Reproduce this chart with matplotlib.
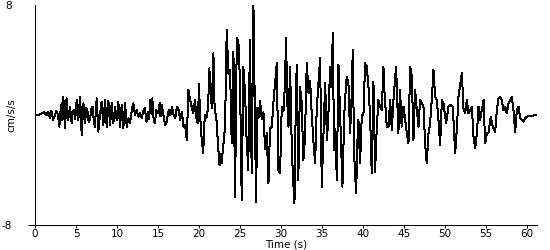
#plot.py

import matplotlib
matplotlib.use("Agg")
import matplotlib.pyplot as plt


# Data (time in s, acceleration in cm/s/s)

time_s = [
    0.0, 0.4, 0.8, 1.1, 1.4, 1.6, 1.8, 2.0, 2.2, 2.4,
    2.6, 2.8, 2.97, 3.1, 3.25, 3.35, 3.45, 3.65, 3.85, 4.05,
    4.27, 4.47, 4.6, 4.75, 4.9, 5.08, 5.28, 5.5, 5.69, 5.9,
    6.1, 6.25, 6.4, 6.55, 6.7, 6.85, 7.03, 7.15, 7.3, 7.52,
    7.72, 7.93, 8.13, 8.33, 8.54, 8.74, 8.95, 9.15, 9.35, 9.55,
    9.76, 9.96, 10.16, 10.37, 10.57, 10.77, 10.98, 11.18, 11.38, 11.58,
    11.8, 11.99, 12.2, 12.4, 12.6, 12.8, 13.0, 13.2, 13.4, 13.6,
    13.8, 13.9, 14.05, 14.2, 14.3, 14.45, 14.6, 14.8, 15.0, 15.2,
    15.3, 15.45, 15.65, 15.85, 16.05, 16.3, 16.5, 16.7, 16.9, 17.1,
    17.3, 17.5, 17.7, 17.9, 18.1, 18.3, 18.5, 18.7, 18.9, 19.1,
    19.3, 19.5, 19.7, 19.85, 20.0, 20.1, 20.3, 20.5, 20.7, 20.9,
    21.1, 21.25, 21.4, 21.55, 21.75, 21.9, 22.1, 22.3, 22.5, 22.6,
    22.75, 23.17, 23.37, 23.58, 23.78, 23.98, 24.19, 24.39, 24.6, 24.8,
    25.0, 25.2, 25.4, 25.61, 25.8, 26.0, 26.2, 26.42, 26.63, 26.95,
    27.1, 27.24, 27.45, 27.64, 27.85, 28.05, 28.25, 28.46, 28.65, 28.87,
    29.1, 29.3, 29.48, 29.67, 29.88, 30.08, 30.29, 30.45, 30.61, 30.75,
    30.9, 31.1, 31.3, 31.45, 31.63, 31.75, 31.9, 32.1, 32.3, 32.5,
    32.72, 32.9, 33.13, 33.35, 33.54, 33.74, 33.95, 34.15, 34.35, 34.55,
    34.76, 34.96, 35.2, 35.37, 35.6, 35.8, 35.98, 36.15, 36.3, 36.46,
    36.62, 36.79, 37.0, 37.2, 37.35, 37.48, 37.7, 37.85, 38.0, 38.21,
    38.41, 38.58, 38.74, 38.9, 39.15, 39.3, 39.43, 39.63, 39.84, 40.04,
    40.24, 40.45, 40.65, 40.85, 41.05, 41.26, 41.46, 41.67, 41.87, 42.07,
    42.28, 42.48, 42.56, 42.89, 43.1, 43.3, 43.5, 43.7, 44.02, 44.3,
    44.5, 44.7, 44.92, 45.33, 45.53, 45.73, 45.94, 46.14, 46.34, 46.55,
    46.75, 46.95, 47.36, 47.56, 47.76, 47.97, 48.17, 48.37, 48.58, 48.78,
    48.98, 49.19, 49.39, 49.6, 49.8, 50.12, 50.41, 50.6, 50.94, 51.22,
    51.42, 51.63, 51.83, 52.04, 52.24, 52.44, 52.64, 52.85, 53.26, 53.46,
    53.66, 53.87, 54.07, 54.27, 54.68, 54.88, 55.08, 55.28, 55.57, 55.81,
    56.1, 56.3, 56.5, 56.7, 56.91, 57.11, 57.32, 57.52, 57.72, 57.93,
    58.13, 58.33, 58.54, 58.74, 58.94, 59.15, 59.35, 59.56, 59.76, 59.96,
    60.17, 60.6, 61.06,
]

accel = [
    0.05, 0.0, 0.1, 0.2, 0.0, 0.25, -0.2, 0.3, -0.35, -0.1,
    0.3, 0.0, -0.85, 0.2, 0.85, -0.4, 1.33, -0.97, 1.21, -0.36,
    0.61, -0.61, 0.3, 0.36, -0.3, 1.09, -0.36, 1.33, -1.45, 0.85,
    -0.61, 0.5, 0.24, -0.5, -0.36, 0.4, 0.61, -0.3, -0.85, 1.21,
    -1.21, 0.12, 0.97, -0.73, 1.09, -0.85, 1.04, -0.73, 0.85, -0.61,
    0.61, -0.36, 0.97, -0.85, 0.73, -0.97, 0.85, -0.85, -0.24, -0.61,
    0.36, 0.85, 0.0, 0.36, -0.12, 0.12, -0.24, 0.3, 0.48, -0.48,
    0.24, -0.3, 1.09, 0.1, 1.21, -0.2, -0.61, 0.36, 0.12, 0.85,
    -0.1, 0.73, 0.0, -0.73, -0.48, 0.36, 0.0, 0.61, 0.0, -0.24,
    0.61, 0.36, -0.36, 0.24, -0.85, -0.73, -1.82, 1.82, 1.09, 0.61,
    0.12, 1.09, -0.36, -0.6, 2.25, 0.2, -1.58, -2.79, 0.0, -0.24,
    0.5, 3.39, 2.06, 0.5, 4.48, 0.36, -0.12, -2.06, -3.64, -2.8,
    -3.52, -0.85, 6.18, 3.0, 3.27, -2.06, 4.61, -5.94, 5.58, 5.3,
    2.3, -6.18, 3.52, 1.58, -1.82, -4.0, 5.45, -4.24, 7.93, -6.3,
    0.5, -0.24, 1.0, -0.3, 0.2, -2.5, -1.3, -4.97, -1.0, -0.85,
    1.2, 2.5, 3.76, -4.0, -4.24, 0.61, 0.3, 2.0, 5.58, 1.0,
    -0.85, 3.52, -2.3, -4.5, -6.42, -1.0, 3.64, -4.73, 2.06, 1.0,
    -3.27, -1.82, 3.76, 1.6, 2.5, 0.0, -2.0, -3.52, 0.5, 2.3,
    4.12, -5.21, -0.85, 2.3, -1.82, 0.5, 3.52, 2.0, 5.94, -2.55,
    -1.0, -4.73, 3.64, 0.0, -2.5, -5.21, 0.0, 1.5, 2.79, 2.3,
    -1.33, 1.0, 4.73, -2.79, -5.7, -2.0, -0.36, -3.52, 0.0, 0.0,
    3.76, 3.52, 2.06, 0.0, -4.24, 2.42, -4.12, -0.85, 1.09, 0.6,
    0.36, 3.52, 2.06, -0.85, -0.85, 1.09, -1.09, 1.09, 3.52, -1.33,
    1.82, -0.85, 0.61, -1.33, -2.06, 3.52, 2.79, -1.82, 1.82, 0.36,
    -0.85, 1.09, 0.61, -2.06, -3.52, -1.33, -0.61, 1.09, 3.27, 1.33,
    1.09, -0.36, -2.18, 1.09, 0.85, -0.61, 0.61, 0.73, 0.61, -2.79,
    -1.09, 1.33, 2.18, 3.03, 0.48, 0.12, 1.09, 0.12, 0.61, -1.58,
    -2.42, -1.33, 0.61, -0.36, 1.09, -2.06, -1.33, -1.33, -0.12, -0.85,
    -1.21, 0.36, 1.21, 1.33, 1.09, 0.36, 0.61, 0.12, 0.85, 1.09,
    1.33, 0.36, -1.21, 0.36, 0.61, -0.24, -0.36, -0.48, -0.24, -0.12,
    -0.07, -0.07, 0.0,
]

x_ticks = [0, 5, 10, 15, 20, 25, 30, 35, 40, 45, 50, 55, 60]
y_ticks = [-8, 8]
y_tick_labels = ["-8", "8"]


# Visualization


def plot_trace(t, a) -> None:
    """
    Plot the acceleration trace the way the old record viewer drew it:
    1-pixel black line, no smoothing, bare left/bottom axes.
    """
    plt.rcParams['font.family'] = ['DejaVu Sans']
    fig = plt.figure(figsize=(5.5, 2.5), dpi=100)
    ax = fig.add_axes([35 / 550, 25 / 250, 502 / 550, 220 / 250])

    ax.plot(t, a, color='black', linewidth=0.72, antialiased=False)

    ax.set_xlim(0, 61.2)
    ax.set_ylim(-8, 8)
    ax.spines['top'].set_visible(False)
    ax.spines['right'].set_visible(False)
    for side in ('left', 'bottom'):
        ax.spines[side].set_linewidth(0.72)
        ax.spines[side].set_antialiased(False)

    ax.set_xticks(x_ticks)
    ax.set_yticks(y_ticks)
    ax.set_yticklabels(y_tick_labels)  # plain hyphen, like the original
    ax.tick_params(axis='x', length=2, width=0.72, pad=1, labelsize=7.5)
    ax.tick_params(axis='y', length=5, width=0.72, pad=12, labelsize=7.5)
    # only the bottom tick shows, as the axis stub
    ax.yaxis.get_major_ticks()[1].tick1line.set_visible(False)

    ax.set_xlabel("Time (s)", fontsize=7.5, labelpad=0)
    ax.set_ylabel("cm/s/s", fontsize=7.5)
    ax.yaxis.set_label_coords(-(35 - 16) / 502, 0.5)

    fig.savefig("out.png", dpi=100)


def main() -> None:
    plot_trace(time_s, accel)


if __name__ == "__main__":
    main()
